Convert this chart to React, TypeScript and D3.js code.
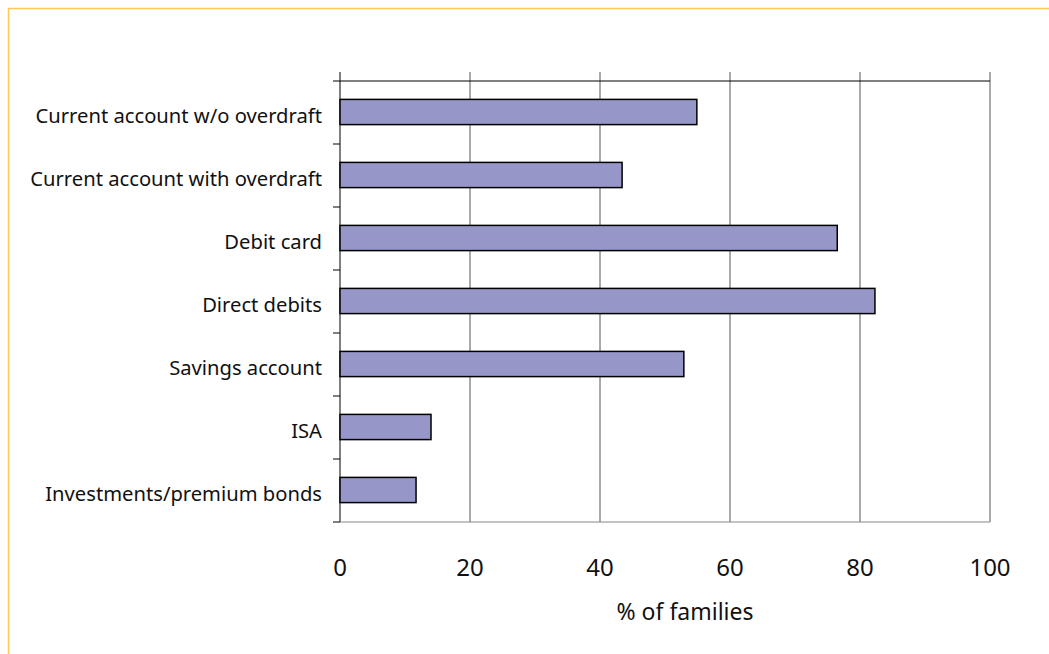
import React from "react";
import * as d3 from "d3";

const categories = [
  "Current account w/o overdraft",
  "Current account with overdraft",
  "Debit card",
  "Direct debits",
  "Savings account",
  "ISA",
  "Investments/premium bonds",
];
const values = [54.9, 43.4, 76.5, 82.3, 52.9, 14.0, 11.7];
const xTicks = [0, 20, 40, 60, 80, 100];
const xLabel = "% of families";

const W = 1049;
const H = 654;
const left = 340, right = 990, top = 81, bottom = 522;

export default function App() {
  const x = d3.scaleLinear().domain([0, 100]).range([left, right]);
  const y = d3.scaleBand<string>().domain(categories).range([top, bottom]).paddingInner(0.6).paddingOuter(0.3);
  const yb = d3.scaleBand<string>().domain(categories).range([top, bottom]);
  const boundaries = categories.map((c) => yb(c) as number).concat([bottom]);
  const font = "'Noto Sans', sans-serif";
  return (
    <svg width={W} height={H} style={{ position: "absolute", left: 0, top: 0 }}>
      <rect width={W} height={H} fill="#fff" />
      <path d={`M8.5,${H} V8.5 H${W}`} fill="none" stroke="#FFC955" strokeWidth={1.5} />
      {xTicks.map((t) => (
        <line key={t} x1={x(t)} x2={x(t)} y1={72} y2={bottom} stroke={t === 0 ? "#000" : "#555"} strokeWidth={1} />
      ))}
      <line x1={left} x2={right} y1={top} y2={top} stroke="#000" strokeWidth={1} />
      <line x1={left} x2={right} y1={bottom} y2={bottom} stroke="#888" strokeWidth={1.2} />
      {boundaries.map((b, i) => (
        <line key={i} x1={333} x2={left} y1={b} y2={b} stroke="#000" strokeWidth={1} />
      ))}
      {categories.map((c, i) => (
        <rect key={c} x={x(0)} y={(y(c) as number) - 0.5} width={x(values[i]) - x(0)} height={y.bandwidth()}
          fill="#9696C9" stroke="#000" strokeWidth={1.5} />
      ))}
      {categories.map((c) => (
        <text key={c} x={322} y={(yb(c) as number) + yb.bandwidth() / 2 + 2} textAnchor="end" dominantBaseline="central"
          fontFamily={font} fontSize={20.2} fill="#111">{c}</text>
      ))}
      {xTicks.map((t) => (
        <text key={t} x={x(t)} y={566} textAnchor="middle" dominantBaseline="central" fontFamily={font} fontSize={24} fill="#111">{t}</text>
      ))}
      <text x={685} y={611} textAnchor="middle" dominantBaseline="central" fontFamily={font} fontSize={23} fill="#111">{xLabel}</text>
    </svg>
  );
}
